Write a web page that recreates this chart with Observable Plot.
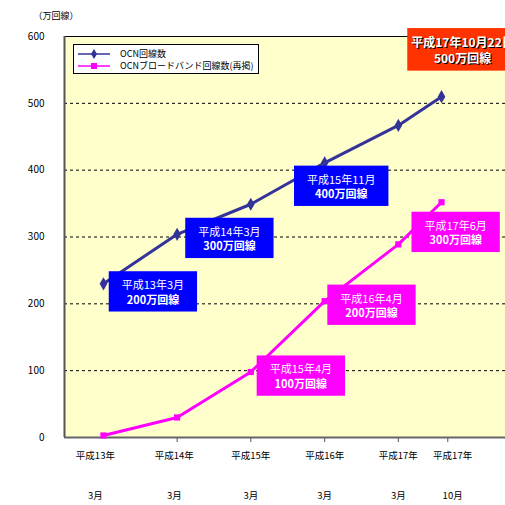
<!DOCTYPE html>
<html><head><meta charset="utf-8">
<script src="https://cdn.jsdelivr.net/npm/d3@7"></script>
<script src="https://cdn.jsdelivr.net/npm/@observablehq/plot@0.6"></script>
<style>
body{margin:0;background:#fff;font-family:"Noto Sans CJK JP",sans-serif;}
#wrap{position:relative;width:505px;height:505px;overflow:hidden;}
#legend{position:absolute;left:73px;top:44px;width:184px;height:28px;background:#fff;border:1px solid #000;font-size:9px;line-height:12px;color:#000;}
#legend .row{position:absolute;left:4px;height:12px;display:flex;align-items:center;}
#legend svg{margin-right:10px;}
</style></head><body><div id="wrap"></div>
<script>
// ---- data ----
const dates = ["2001-03-01","2002-03-01","2003-03-01","2004-03-01","2005-03-01","2005-10-01"];
const ocnTotal = [230, 304, 349, 411, 467, 510];
const ocnBroadband = [3, 30, 98, 204, 289, 352];
const seriesNames = ["OCN回線数", "OCNブロードバンド回線数(再掲)"];
const seriesColors = ["#333399", "#FF00FF"];

const xLabelDates = ["2001-01-20","2002-02-15","2003-03-01","2004-03-01","2005-03-01","2005-11-25"];
const xLabelYears = ["平成13年","平成14年","平成15年","平成16年","平成17年","平成17年"];
const xLabelMonths = ["3月","3月","3月","3月","3月","10月"];
const xTickDates = ["2002-03-01","2003-03-01","2004-03-01","2005-03-01","2005-11-01"];
const xDomain = ["2000-08-20","2006-08-14"];
const yTicks = [0,100,200,300,400,500,600];
const yGrid = [100,200,300,400,500];
const yUnit = "（万回線）";

const annotDates = ["2001-11-01","2002-11-15","2004-05-22","2003-11-04","2004-10-19","2005-12-10","2006-01-13"];
const annotValues = [218, 298, 376, 92, 198, 307, 580];
const annotLine1 = ["平成13年3月","平成14年3月","平成15年11月","平成15年4月","平成16年4月","平成17年6月","平成17年10月22日"];
const annotLine2 = ["200万回線","300万回線","400万回線","100万回線","200万回線","300万回線","500万回線"];
const annotFill = ["#0000FF","#0000FF","#0000FF","#FF00FF","#FF00FF","#FF00FF","#FF3300"];

// ---- build ----
const P = d => new Date(d + "T00:00:00Z");
const total = dates.map((d,i)=>({date:P(d), v:ocnTotal[i]}));
const bb = dates.map((d,i)=>({date:P(d), v:ocnBroadband[i]}));
const xl = xLabelDates.map((d,i)=>({date:P(d), y:xLabelYears[i], m:xLabelMonths[i]}));
const annots = annotDates.map((d,i)=>({date:P(d), v:annotValues[i], text:annotLine1[i]+"\n"+annotLine2[i], fill:annotFill[i], red: i===annotDates.length-1}));

const font = '"Noto Sans CJK JP", sans-serif';
const chart = Plot.plot({
  width: 505, height: 505,
  marginLeft: 64, marginRight: 0, marginTop: 36, marginBottom: 68,
  style: {fontFamily: font, fontSize: "11px", color: "#000", background: "#fff"},
  x: {type: "utc", domain: xDomain.map(P), axis: null},
  y: {domain: [0, 600], axis: null},
  marks: [
    Plot.frame({fill: "#FFFFCC", stroke: null}),
    Plot.ruleY(yGrid, {stroke: "#000", strokeDasharray: "3,3", strokeWidth: 1}),
    Plot.ruleY([600], {stroke: "#000", strokeWidth: 1.2}),
    Plot.axisX({ticks: xTickDates.map(P), tickSize: 5, tickFormat: () => "", label: null, stroke: "#555"}),
    Plot.ruleY([0], {stroke: "#666", strokeWidth: 2}),
    Plot.ruleX([P(xDomain[0])], {stroke: "#555", strokeWidth: 2}),
    Plot.axisY({ticks: yTicks, tickSize: 0, tickPadding: 20, fontSize: 10, tickFormat: d => String(d), label: null}),
    Plot.text([yUnit], {frameAnchor: "top-left", dx: -31, dy: -24, fontSize: 9}),
    Plot.text(xl, {x: "date", text: "y", frameAnchor: "bottom", dy: 21, fontSize: 9.5}),
    Plot.text(xl, {x: "date", text: "m", frameAnchor: "bottom", dy: 61, fontSize: 9.5}),
    Plot.line(bb, {x: "date", y: "v", stroke: seriesColors[1], strokeWidth: 3}),
    Plot.dot(bb, {x: "date", y: "v", symbol: "square", r: 3.5, fill: seriesColors[1]}),
    Plot.line(total, {x: "date", y: "v", stroke: seriesColors[0], strokeWidth: 3}),
    Plot.dot(total, {x: "date", y: "v", symbol: "diamond", r: 4, fill: seriesColors[0]}),
    ...annots.map((a,i) => Plot.text([a], {x: "date", y: "v", text: "text", fill: "#fff",
        fontSize: a.red ? 12 : 11, fontWeight: a.red ? "bold" : "normal", lineHeight: 1.3, ariaLabel: () => "annot-" + i}))
  ]
});
const wrap = document.getElementById("wrap");
wrap.append(chart);

// boxes behind annotation texts
const svg = d3.select(chart);
annots.forEach((a,i) => {
  svg.selectAll(`text[aria-label="annot-${i}"]`).each(function(){
    const t = this;
    const tsp = t.querySelectorAll("tspan");
    if (tsp.length > 1) tsp[1].setAttribute("font-weight", "bold");
    const b = t.getBBox();
    const padX = a.red ? 4 : 13, padY = 5;
    const r = document.createElementNS("http://www.w3.org/2000/svg", "rect");
    r.setAttribute("x", b.x - padX); r.setAttribute("y", b.y - padY);
    r.setAttribute("width", b.width + 2*padX + (a.red ? 20 : 0)); r.setAttribute("height", b.height + 2*padY);
    r.setAttribute("fill", a.fill);
    if (t.getAttribute("transform")) r.setAttribute("transform", t.getAttribute("transform"));
    t.parentNode.insertBefore(r, t);
    if (a.red) {
      const s = t.cloneNode(true);
      s.setAttribute("fill", "#000");
      s.removeAttribute("aria-label");
      const tr = t.getAttribute("transform") || "";
      s.setAttribute("transform", tr + " translate(1,1)");
      t.parentNode.insertBefore(s, t);
    }
  });
});

// legend
const lg = document.createElement("div");
lg.id = "legend";
lg.innerHTML = `
<div class="row" style="top:3px"><svg width="32" height="10"><line x1="0" y1="5" x2="32" y2="5" stroke="${seriesColors[0]}" stroke-width="1.5"/><path d="M16,0 L19,5 L16,10 L13,5Z" fill="${seriesColors[0]}"/></svg><span>${seriesNames[0]}</span></div>
<div class="row" style="top:15px"><svg width="32" height="10"><line x1="0" y1="5" x2="32" y2="5" stroke="${seriesColors[1]}" stroke-width="1.5"/><rect x="13" y="2" width="6" height="6" fill="${seriesColors[1]}"/></svg><span>${seriesNames[1]}</span></div>`;
wrap.append(lg);
</script></body></html>
